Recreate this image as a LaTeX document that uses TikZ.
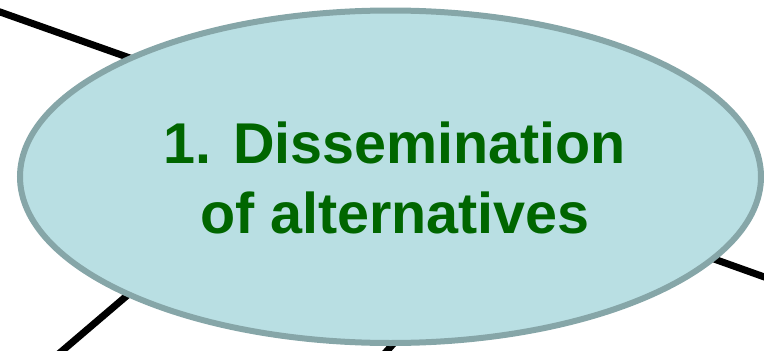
\documentclass[tikz,border=0pt]{standalone}
\usepackage{fontspec}
\setmainfont{Liberation Sans}
\usetikzlibrary{shapes.geometric,backgrounds}
\definecolor{ellfill}{HTML}{B9DFE3}
\definecolor{elldraw}{HTML}{86A6A8}
\definecolor{txtgreen}{HTML}{006600}
\tikzset{
  conn/.style={draw=black,line width=7pt},
  bubble/.style={ellipse,draw=elldraw,fill=ellfill,line width=6pt,minimum width=741pt,minimum height=332.5pt,inner sep=0pt},
  label/.style={text=txtgreen,font=\fontsize{57.5}{70}\selectfont\bfseries,align=center,inner sep=0pt}
}
\begin{document}
\begin{tikzpicture}[x=1pt,y=-1pt]
\useasboundingbox (0,0) rectangle (764,351);
\node[bubble] (e) at (390.5,176.75) {};
\node[label,anchor=base] (t) at (395,233) {1. Dissemination\\of alternatives};
\coordinate (a1) at (-5,10.2);
\coordinate (b1) at (150,65.1);
\coordinate (a2) at (770,279);
\coordinate (b2) at (700,254);
\coordinate (a3) at (55,357);
\coordinate (b3) at (153.5,273);
\coordinate (a4) at (382,356.5);
\coordinate (b4) at (404,331.75);
\begin{scope}[on background layer]
\draw[conn] (a1) -- (b1);
\draw[conn] (a2) -- (b2);
\draw[conn] (a3) -- (b3);
\draw[conn] (a4) -- (b4);
\end{scope}
\end{tikzpicture}
\end{document}
